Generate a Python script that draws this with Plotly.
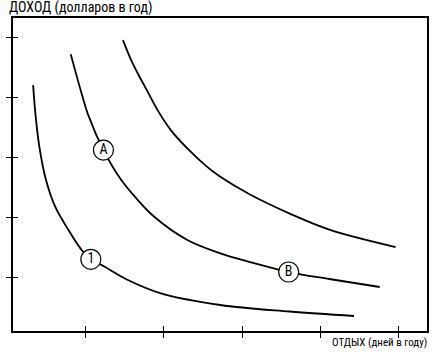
import plotly.graph_objects as go

# Indifference curves (leisure days vs income)
curve1_x = [0.329, 0.358, 0.409, 0.494, 0.611, 0.781, 0.949, 1.067, 1.244, 1.540, 1.962, 2.722, 3.608, 4.430]
curve1_y = [4.211, 3.737, 3.179, 2.622, 2.176, 1.786, 1.452, 1.296, 1.172, 0.950, 0.727, 0.532, 0.423, 0.348]

curve2_x = [0.810, 0.865, 0.949, 1.034, 1.228, 1.456, 1.667, 1.877, 2.300, 2.722, 3.101, 3.595, 4.114, 4.759]
curve2_y = [4.729, 4.462, 4.072, 3.709, 3.124, 2.622, 2.288, 2.008, 1.619, 1.396, 1.251, 1.084, 0.967, 0.833]

curve3_x = [1.477, 1.582, 1.667, 1.794, 1.920, 2.089, 2.300, 2.553, 2.722, 3.101, 3.608, 4.114, 4.962]
curve3_y = [4.963, 4.629, 4.406, 4.099, 3.793, 3.458, 3.152, 2.844, 2.677, 2.380, 2.062, 1.794, 1.502]

point_labels = ["1", "A", "B"]
point_x = [1.067, 1.228, 3.595]
point_y = [1.296, 3.124, 1.084]

tick_vals = [1, 2, 3, 4, 5]

x_title = "ОТДЫХ (дней в году)"
y_title = "ДОХОД (долларов в год)"

FONT = "Liberation Sans Narrow, Arial Narrow, Roboto Condensed, sans-serif"

fig = go.Figure()
for xs, ys in [(curve1_x, curve1_y), (curve2_x, curve2_y), (curve3_x, curve3_y)]:
    fig.add_trace(go.Scatter(x=xs, y=ys, mode="lines",
                             line=dict(color="black", width=1.8, shape="spline", smoothing=1.0),
                             hoverinfo="skip", showlegend=False))

fig.add_trace(go.Scatter(x=point_x, y=point_y, mode="markers+text", text=point_labels,
                         textposition="middle center",
                         textfont=dict(family=FONT, size=14, color="black"),
                         marker=dict(size=20, color="white", line=dict(color="black", width=1.2)),
                         showlegend=False, hoverinfo="skip"))

xr = [0.072, 5.363]
yr = [0.097, 5.334]

fig.update_layout(
    width=437, height=356,
    margin=dict(l=11, r=8, t=18, b=25),
    paper_bgcolor="white", plot_bgcolor="white",
    xaxis=dict(range=xr, tickvals=tick_vals, showticklabels=False, ticks="outside",
               ticklen=5, tickwidth=1.3, tickcolor="black", showgrid=False, zeroline=False,
               showline=True, linecolor="black", linewidth=2, mirror=True),
    yaxis=dict(range=yr, tickvals=tick_vals, showticklabels=False, ticks="outside",
               ticklen=5, tickwidth=1.3, tickcolor="black", showgrid=False, zeroline=False,
               showline=True, linecolor="black", linewidth=2, mirror=True),
    xaxis2=dict(range=xr, tickvals=tick_vals, showticklabels=False, ticks="inside",
                ticklen=5, tickwidth=1.3, tickcolor="black", showgrid=False, zeroline=False,
                showline=False, overlaying="x", side="bottom", anchor="y"),
    yaxis2=dict(range=yr, tickvals=tick_vals, showticklabels=False, ticks="inside",
                ticklen=5, tickwidth=1.3, tickcolor="black", showgrid=False, zeroline=False,
                showline=False, overlaying="y", side="left", anchor="x"),
    annotations=[
        dict(text=y_title, xref="paper", yref="paper", x=0, y=1, xanchor="left", yanchor="bottom",
             xshift=-6, yshift=0, showarrow=False, font=dict(family=FONT, size=14, color="black")),
        dict(text=x_title, xref="paper", yref="paper", x=1, y=0, xanchor="right", yanchor="top",
             xshift=2, yshift=-3, showarrow=False, font=dict(family=FONT, size=11, color="black")),
    ],
)
# invisible trace to activate the overlay axes (ticks crossing the axis line)
fig.add_trace(go.Scatter(x=[None], y=[None], xaxis="x2", yaxis="y2", showlegend=False, hoverinfo="skip"))

fig.write_html("out.html", config={"displayModeBar": False},
               post_script="document.body.style.margin='0';")
